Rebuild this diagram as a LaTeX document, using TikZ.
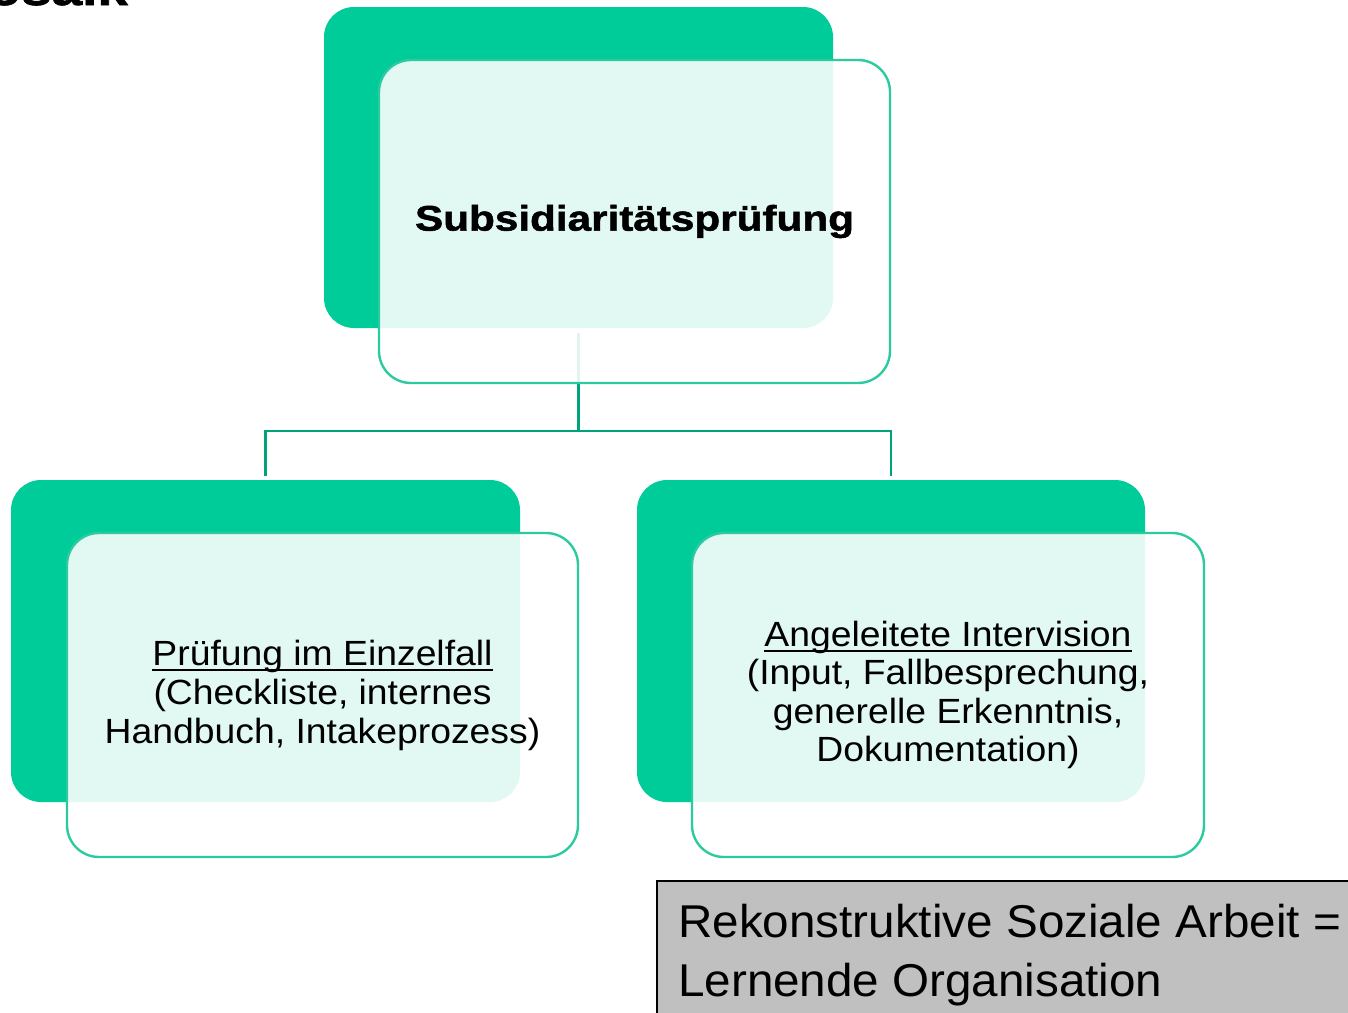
\documentclass[tikz,border=0pt]{standalone}
\usepackage{fontspec}
\setmainfont{Liberation Sans}
\newfontfamily\boxfont{Liberation Sans}[FakeStretch=1.066]
\newfontfamily\titlefont{Liberation Sans Bold}[FakeStretch=1.19, FakeBold=1.5]
\newfontfamily\notefont{Liberation Sans}[FakeStretch=1.035]
\definecolor{darkgreen}{HTML}{00CC99}
\definecolor{bordergreen}{HTML}{2CCB9F}
\definecolor{conngreen}{HTML}{00A37A}
\definecolor{notegray}{HTML}{C0C0C0}
\newcommand\ulx[1]{\setbox0=\hbox{#1}\rlap{\rule[-5.5pt]{\wd0}{1.8pt}}\box0}
\tikzset{
  darkbox/.style={fill=darkgreen, rounded corners=30pt, inner sep=0pt, outer sep=0pt},
  lightbox/.style={fill=white, fill opacity=0.885, text opacity=1, draw=bordergreen, line width=2.4pt,
     rounded corners=32pt, inner sep=0pt, outer sep=0pt, minimum width=511pt, minimum height=324pt},
  conn/.style={draw=conngreen, line width=2.4pt},
  notebox/.style={fill=notegray, draw=black, line width=2pt, inner sep=0pt},
}
\begin{document}
\begin{tikzpicture}[x=1pt,y=-1pt]
\useasboundingbox (0,0) rectangle (1348,1012);
% cropped title
\node[anchor=base east, inner sep=0pt, font=\titlefont\fontsize{46}{46}\selectfont] (title) at (128,5) {Mosaik};
% dark boxes
\node[darkbox, minimum width=509pt, minimum height=321pt] (topd) at (578.5,167.5) {};
\node[darkbox, minimum width=509pt, minimum height=322pt] (leftd) at (265.5,641) {};
\node[darkbox, minimum width=508pt, minimum height=322pt] (rightd) at (891,641) {};
% connectors
\coordinate (junction) at (578.5,431);
\draw[conn] ([yshift=-5pt]topd.south) -- (junction);
\draw[conn] ([yshift=4pt]leftd.north) |- (junction) -| ([yshift=4pt]rightd.north);
% light boxes
\node[lightbox, minimum height=323pt, font=\titlefont\fontsize{35.5}{40}\selectfont] (topl) at (634.5,221.5) {\raisebox{-3pt}{Subsidiaritätsprüfung}};
\node[lightbox, align=center, font=\boxfont\fontsize{35}{39}\selectfont] (leftl) at (322.5,695)
  {\ulx{Prüfung im Einzelfall}\\(Checkliste, internes\\Handbuch, Intakeprozess)};
\node[lightbox, minimum width=512pt, align=center, font=\boxfont\fontsize{35}{38.5}\selectfont] (rightl) at (948,695)
  {\ulx{Angeleitete Intervision}\\(Input, Fallbesprechung,\\generelle Erkenntnis,\\Dokumentation)};
% note box
\node[notebox, minimum width=703pt, minimum height=144pt] (note) at (1008.5,953) {};
\node[anchor=north west, inner sep=0pt, align=left, font=\notefont\fontsize{46}{59}\selectfont] (notetext) at (678,904)
  {Rekonstruktive Soziale Arbeit =\\Lernende Organisation};
\end{tikzpicture}
\end{document}
